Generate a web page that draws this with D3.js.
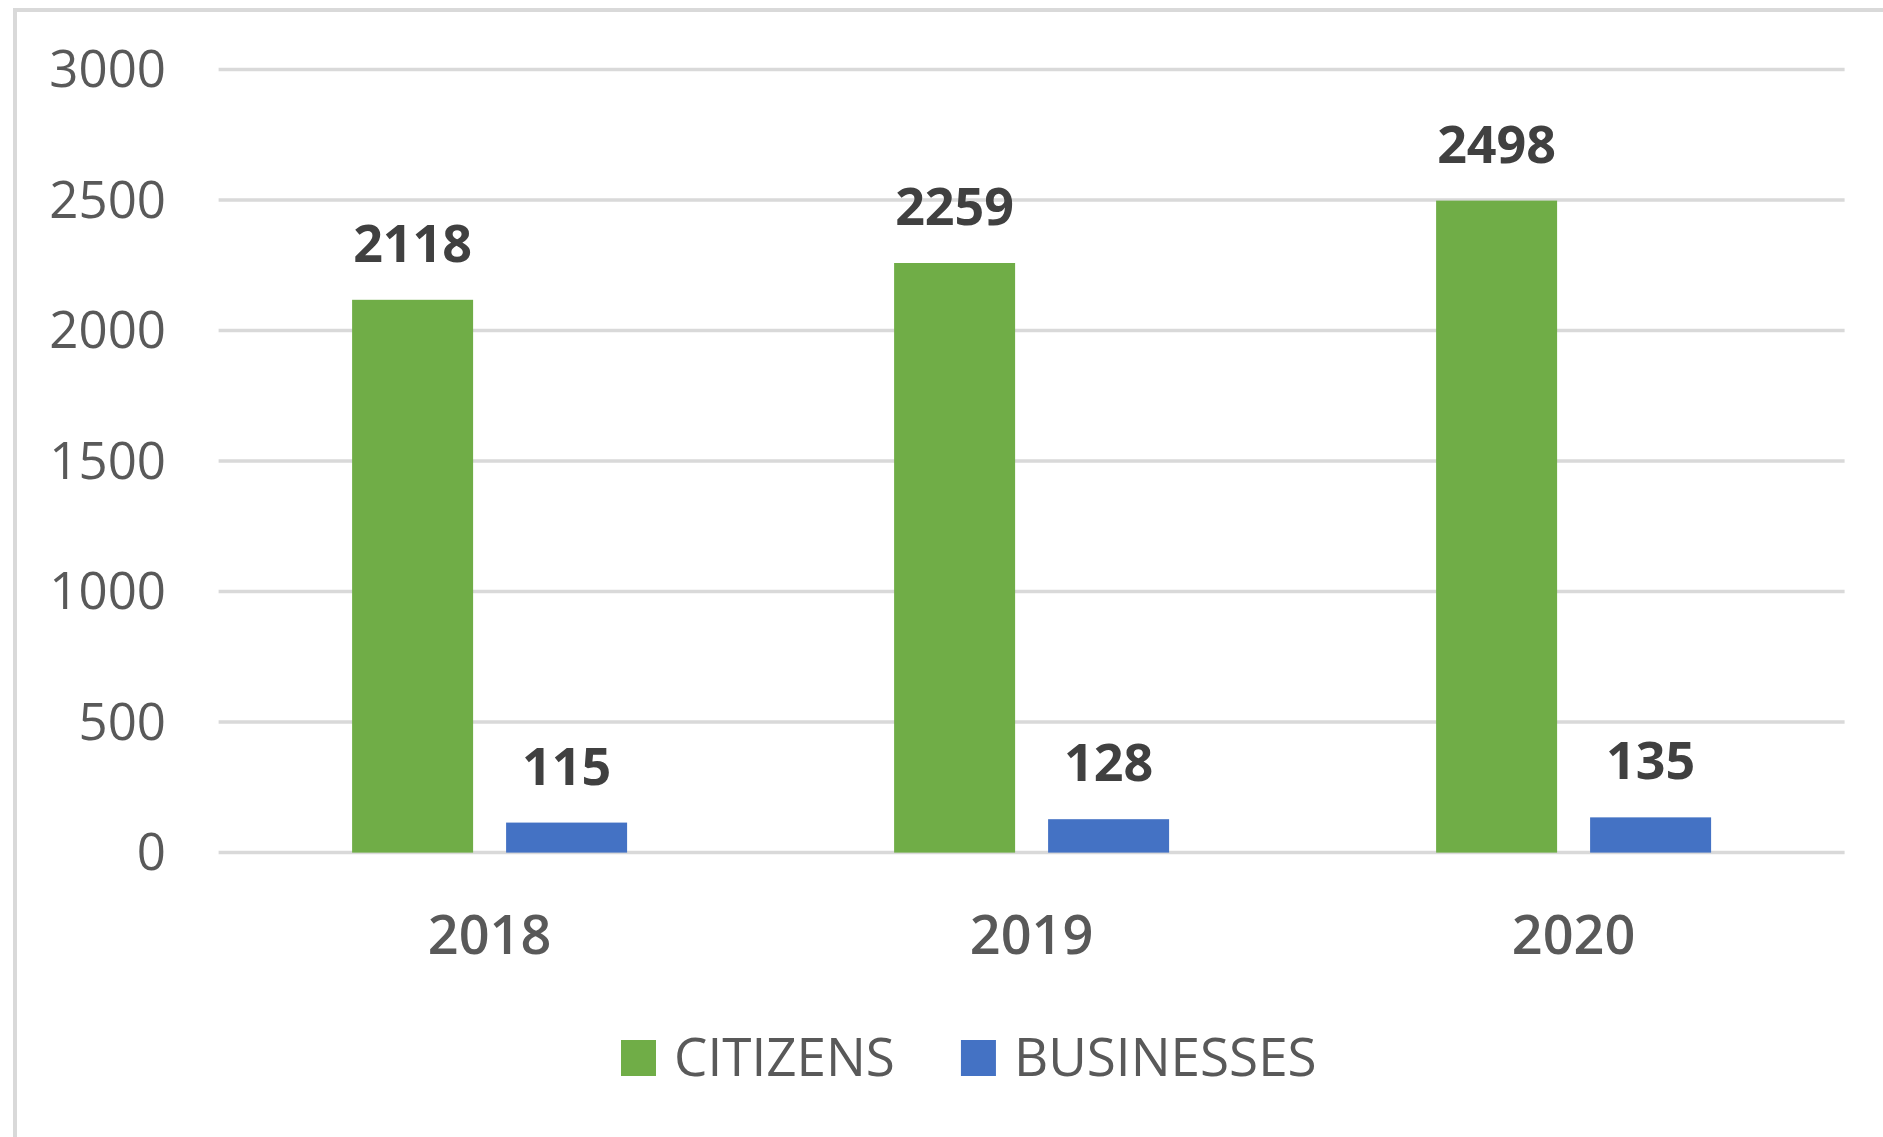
<!DOCTYPE html>
<html>
<head>
<meta charset="utf-8">
<script src="https://cdn.jsdelivr.net/npm/d3@7"></script>
<style>
  html, body { margin: 0; padding: 0; background: #fff; }
  svg { display: block; }
  text { font-family: "Open Sans", "Liberation Sans", sans-serif; }
</style>
</head>
<body>
<div id="chart"></div>
<script>
// data
const years = ['2018', '2019', '2020'];
const series = ['CITIZENS', 'BUSINESSES'];
const citizens = [2118, 2259, 2498];
const businesses = [115, 128, 135];
const yTicks = [0, 500, 1000, 1500, 2000, 2500, 3000];
const colors = ['#70ad47', '#4472c4'];

const width = 1883;
const height = 1137;

const svg = d3.select('#chart')
  .append('svg')
  .attr('width', width)
  .attr('height', height);

// chart frame (only top and left edge show)
svg.append('rect')
  .attr('x', 15)
  .attr('y', 10)
  .attr('width', width + 20)
  .attr('height', height + 20)
  .attr('fill', 'none')
  .attr('stroke', '#d9d9d9')
  .attr('stroke-width', 4);

const plot = { left: 218.6, right: 1844.6, top: 69.6, bottom: 852.6 };

const y = d3.scaleLinear()
  .domain([0, 3000])
  .range([plot.bottom, plot.top]);

const x0 = d3.scaleBand()
  .domain(years)
  .range([plot.left, plot.right]);

// two bars of ~121 px with a 33 px gap, centered in each band
const barW = 121, gap = 33;
const inner = 2 * barW + gap;
const x1 = d3.scaleBand()
  .domain(series)
  .range([(x0.bandwidth() - inner) / 2, (x0.bandwidth() + inner) / 2])
  .paddingInner(gap / (barW + gap));

// gridlines
svg.append('g')
  .selectAll('line')
  .data(yTicks)
  .enter()
  .append('line')
  .attr('x1', plot.left)
  .attr('x2', plot.right)
  .attr('y1', d => y(d))
  .attr('y2', d => y(d))
  .attr('stroke', '#d9d9d9')
  .attr('stroke-width', 3.5);

// y labels
svg.append('g')
  .selectAll('text')
  .data(yTicks)
  .enter()
  .append('text')
  .attr('x', 166)
  .attr('y', d => y(d))
  .attr('dy', '0.35em')
  .attr('text-anchor', 'end')
  .attr('font-size', 51)
  .attr('font-weight', 500)
  .attr('fill', '#595959')
  .text(d => d);

// bars
const rows = years.map((yr, i) => ({
  year: yr,
  vals: [
    { key: series[0], value: citizens[i], color: colors[0] },
    { key: series[1], value: businesses[i], color: colors[1] }
  ]
}));

const groups = svg.append('g')
  .selectAll('g')
  .data(rows)
  .enter()
  .append('g')
  .attr('transform', d => `translate(${x0(d.year)},0)`);

groups.selectAll('rect')
  .data(d => d.vals)
  .enter()
  .append('rect')
  .attr('x', d => x1(d.key))
  .attr('width', x1.bandwidth())
  .attr('y', d => y(d.value))
  .attr('height', d => y(0) - y(d.value))
  .attr('fill', d => d.color);

// value labels
groups.selectAll('text.val')
  .data(d => d.vals)
  .enter()
  .append('text')
  .attr('class', 'val')
  .attr('x', d => x1(d.key) + x1.bandwidth() / 2)
  .attr('y', d => y(d.value) - 38)
  .attr('text-anchor', 'middle')
  .attr('font-size', 52)
  .attr('font-weight', 'bold')
  .attr('fill', '#404040')
  .text(d => d.value);

// category labels
svg.append('g')
  .selectAll('text')
  .data(years)
  .enter()
  .append('text')
  .attr('x', d => x0(d) + x0.bandwidth() / 2)
  .attr('y', 954)
  .attr('text-anchor', 'middle')
  .attr('font-size', 54)
  .attr('font-weight', 600)
  .attr('fill', '#595959')
  .text(d => d);

// legend
const legend = svg.append('g');
let lx = 621;
series.forEach((s, i) => {
  legend.append('rect')
    .attr('x', lx)
    .attr('y', 1040)
    .attr('width', 35)
    .attr('height', 36)
    .attr('fill', colors[i]);
  const t = legend.append('text')
    .attr('x', lx + 53)
    .attr('y', 1076)
    .attr('font-size', 53)
    .attr('fill', '#595959')
    .text(s);
  lx += 53 + t.node().getComputedTextLength() + 66;
});
</script>
</body>
</html>
